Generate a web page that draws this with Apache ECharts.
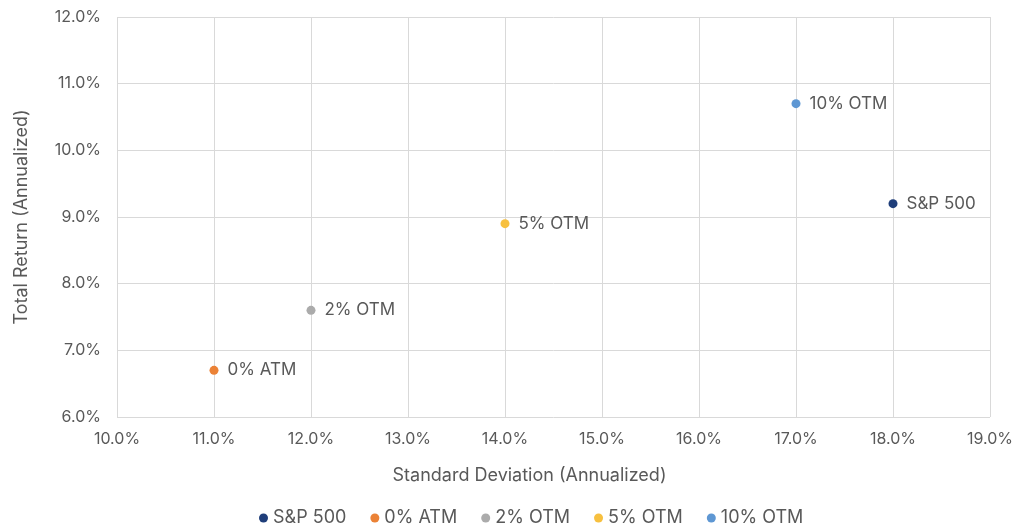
<!DOCTYPE html>
<html><head><meta charset="utf-8">
<script src="https://cdn.jsdelivr.net/npm/echarts@6/dist/echarts.min.js"></script>
<style>html,body{margin:0;padding:0;background:#fff}#c{width:1024px;height:532px}</style>
</head><body><div id="c"></div>
<script>
const seriesNames = ['S&P 500', '0% ATM', '2% OTM', '5% OTM', '10% OTM'];
const stdDev = [18.0, 11.0, 12.0, 14.0, 17.0];
const totalReturn = [9.2, 6.7, 7.6, 8.9, 10.7];
const colors = ['#1F3E7A', '#EB8236', '#ABABAB', '#F7C03F', '#5E97D3'];

const txt = '#595959';
const font = 'Inter, "Noto Sans", sans-serif';
const chart = echarts.init(document.getElementById('c'));
chart.setOption({
  animation: false,
  textStyle: { fontFamily: font },
  grid: { left: 117, right: 34, top: 17, bottom: 115 },
  legend: {
    bottom: 0, left: 254, itemWidth: 9, itemHeight: 9, itemGap: 24,
    icon: 'circle',
    textStyle: { color: txt, fontSize: 18, fontFamily: font },
    data: seriesNames
  },
  xAxis: {
    type: 'value', min: 10, max: 19, interval: 1,
    name: 'Standard Deviation (Annualized)', nameLocation: 'middle', nameGap: 50,
    nameTextStyle: { color: txt, fontSize: 18, fontFamily: font, padding: [0, 48, 0, 0] },
    axisLine: { show: false }, axisTick: { show: false },
    axisLabel: { color: txt, fontSize: 16, margin: 14, formatter: v => v.toFixed(1) + '%' },
    splitLine: { lineStyle: { color: '#D9D9D9', width: 1 } }
  },
  yAxis: {
    type: 'value', min: 6, max: 12, interval: 1,
    name: 'Total Return (Annualized)', nameLocation: 'middle', nameGap: 86, nameRotate: 90,
    nameTextStyle: { color: txt, fontSize: 18, fontFamily: font },
    axisLine: { show: false }, axisTick: { show: false },
    axisLabel: { color: txt, fontSize: 16, margin: 16, formatter: v => v.toFixed(1) + '%' },
    splitLine: { lineStyle: { color: '#D9D9D9', width: 1 } }
  },
  series: seriesNames.map((n, i) => ({
    name: n, type: 'scatter', symbol: 'circle', symbolSize: 9,
    itemStyle: { color: colors[i], opacity: 1 },
    data: [[stdDev[i], totalReturn[i]]],
    label: { show: true, position: 'right', distance: 9, formatter: n, color: txt, fontSize: 17, fontFamily: font }
  }))
});
</script></body></html>
